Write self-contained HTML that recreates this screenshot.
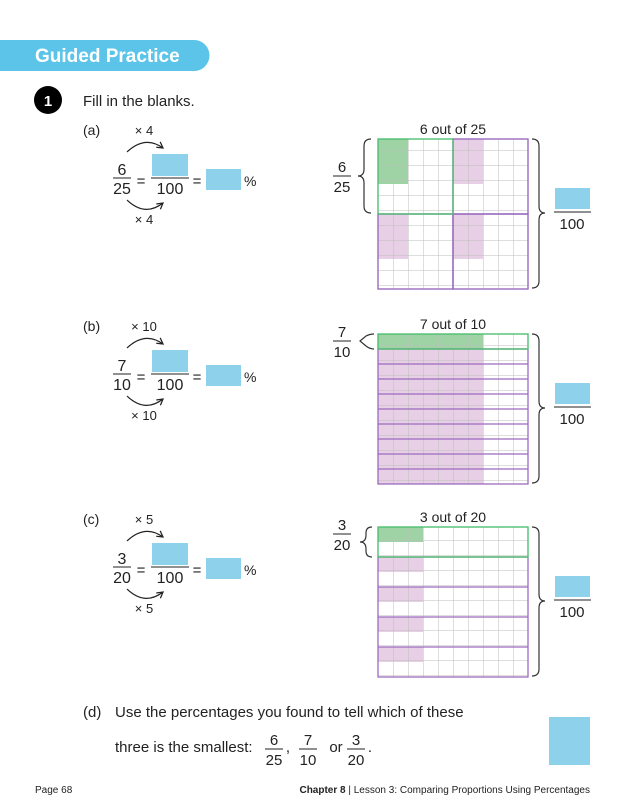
<!DOCTYPE html>
<html><head><meta charset="utf-8"><style>
html,body{margin:0;padding:0;background:#fff;}
svg{display:block;font-family:"Liberation Sans",sans-serif;}
</style></head><body>
<svg width="630" height="803" viewBox="0 0 630 803" xmlns="http://www.w3.org/2000/svg">
<defs>
<pattern id="g" x="378" y="0" width="15" height="15" patternUnits="userSpaceOnUse">
<path d="M0 0H15M0 0V15" stroke="#bdbdbd" stroke-width="1" fill="none"/>
</pattern>
<marker id="ah" viewBox="0 0 10 10" refX="8" refY="5" markerWidth="7" markerHeight="7" orient="auto"><path d="M1 1L8 5L1 9" fill="none" stroke="#222" stroke-width="1.5"/></marker>
<g id="eq">
<path d="M127 152Q145 135 163 148" fill="none" stroke="#222" stroke-width="1.2" marker-end="url(#ah)"/>
<line x1="113" y1="178" x2="131" y2="178" stroke="#222"/>
<text x="141" y="186" text-anchor="middle" font-size="15">=</text>
<rect x="152" y="154" width="36" height="22" fill="#8dd2ea"/>
<line x1="151" y1="178" x2="189" y2="178" stroke="#222"/>
<text x="170" y="194" text-anchor="middle" font-size="16">100</text>
<text x="197" y="186" text-anchor="middle" font-size="15">=</text>
<rect x="206" y="169" width="35" height="21" fill="#8dd2ea"/>
<text x="244" y="186" font-size="14">%</text>
<path d="M127 200Q145 217 163 203" fill="none" stroke="#222" stroke-width="1.2" marker-end="url(#ah)"/>
</g>
</defs>
<!-- header -->
<path d="M0 40H194A15.5 15.5 0 0 1 194 71H0Z" fill="#5bc4e8"/>
<text x="35" y="62" fill="#fff" font-size="19" font-weight="bold">Guided Practice</text>
<circle cx="48" cy="100" r="14" fill="#000"/>
<text x="48" y="106" fill="#fff" font-size="15" font-weight="bold" text-anchor="middle">1</text>
<text x="83" y="106" font-size="15" fill="#222">Fill in the blanks.</text>

<!-- left parts -->
<g font-size="14" fill="#222">
<use href="#eq"/>
<text x="83" y="135">(a)</text>
<text x="144" y="135" text-anchor="middle" font-size="13">× 4</text>
<text x="122" y="175" text-anchor="middle" font-size="16">6</text>
<text x="122" y="194" text-anchor="middle" font-size="16">25</text>
<text x="144" y="224" text-anchor="middle" font-size="13">× 4</text>
</g>
<g font-size="14" fill="#222" transform="translate(0,196)">
<use href="#eq"/>
<text x="83" y="135">(b)</text>
<text x="144" y="135" text-anchor="middle" font-size="13">× 10</text>
<text x="122" y="175" text-anchor="middle" font-size="16">7</text>
<text x="122" y="194" text-anchor="middle" font-size="16">10</text>
<text x="144" y="224" text-anchor="middle" font-size="13">× 10</text>
</g>
<g font-size="14" fill="#222" transform="translate(0,389)">
<use href="#eq"/>
<text x="83" y="135">(c)</text>
<text x="144" y="135" text-anchor="middle" font-size="13">× 5</text>
<text x="122" y="175" text-anchor="middle" font-size="16">3</text>
<text x="122" y="194" text-anchor="middle" font-size="16">20</text>
<text x="144" y="224" text-anchor="middle" font-size="13">× 5</text>
</g>

<!-- right brace + answer -->
<g fill="none" stroke="#333" stroke-width="1.2">
<path d="M532 139Q539 139 539 146V206Q539 213 545 213Q539 213 539 220V281Q539 288 532 288"/>
<path d="M532 334Q539 334 539 341V401Q539 408 545 408Q539 408 539 415V476Q539 483 532 483"/>
<path d="M532 527Q539 527 539 534V594Q539 601 545 601Q539 601 539 608V669Q539 676 532 676"/>
</g>
<g fill="#222" font-size="15">
<rect x="555" y="188" width="35" height="21" fill="#8dd2ea"/><line x1="554" y1="212" x2="591" y2="212" stroke="#222"/><text x="572" y="229" text-anchor="middle">100</text>
<rect x="555" y="383" width="35" height="21" fill="#8dd2ea"/><line x1="554" y1="407" x2="591" y2="407" stroke="#222"/><text x="572" y="424" text-anchor="middle">100</text>
<rect x="555" y="576" width="35" height="21" fill="#8dd2ea"/><line x1="554" y1="600" x2="591" y2="600" stroke="#222"/><text x="572" y="617" text-anchor="middle">100</text>
</g>

<!-- grid titles & left fractions -->
<g fill="#222" font-size="14" text-anchor="middle">
<text x="453" y="134">6 out of 25</text>
<text x="453" y="329">7 out of 10</text>
<text x="453" y="522">3 out of 20</text>
<text x="342" y="172" font-size="15">6</text><line x1="333" y1="176" x2="351" y2="176" stroke="#222"/><text x="342" y="192" font-size="15">25</text>
<text x="342" y="337" font-size="15">7</text><line x1="333" y1="341" x2="351" y2="341" stroke="#222"/><text x="342" y="357" font-size="15">10</text>
<text x="342" y="530" font-size="15">3</text><line x1="333" y1="534" x2="351" y2="534" stroke="#222"/><text x="342" y="550" font-size="15">20</text>
</g>
<g fill="none" stroke="#333" stroke-width="1.2">
<path d="M371 139Q364 139 364 146V169Q364 176 358 176Q364 176 364 183V206Q364 213 371 213"/>
<path d="M374 334Q370 334 366 336L360 341L366 346Q370 349 374 349"/>
<path d="M372 527Q366 527 366 533V535Q366 542 360 542Q366 542 366 549V551Q366 557 372 557"/>
</g>

<!-- grid a -->
<rect x="378" y="139" width="150" height="150" fill="#fff"/>
<rect x="378" y="139" width="30" height="45" fill="#9fd3a6"/>
<g fill="#e7cfe5"><rect x="453" y="139" width="30" height="45"/><rect x="378" y="214" width="30" height="45"/><rect x="453" y="214" width="30" height="45"/></g>
<rect x="378" y="139" width="150" height="150" fill="url(#g)"/>
<rect x="453" y="139" width="75" height="75" fill="none" stroke="#9b6bbf" stroke-width="1.4"/>
<rect x="378" y="214" width="75" height="75" fill="none" stroke="#9b6bbf" stroke-width="1.4"/>
<rect x="453" y="214" width="75" height="75" fill="none" stroke="#9b6bbf" stroke-width="1.4"/>
<rect x="378" y="139" width="75" height="75" fill="none" stroke="#4fbf72" stroke-width="1.4"/>

<!-- grid b -->
<rect x="378" y="334" width="150" height="150" fill="#fff"/>
<rect x="378" y="334" width="105" height="15" fill="#9fd3a6"/>
<rect x="378" y="349" width="105" height="135" fill="#e7cfe5"/>
<rect x="378" y="334" width="150" height="150" fill="url(#g)"/>
<g fill="none" stroke="#9b6bbf" stroke-width="1.3">
<rect x="378" y="349" width="150" height="135"/>
<path d="M378 364H528M378 379H528M378 394H528M378 409H528M378 424H528M378 439H528M378 454H528M378 469H528"/>
</g>
<rect x="378" y="334" width="150" height="15" fill="none" stroke="#4fbf72" stroke-width="1.4"/>

<!-- grid c -->
<rect x="378" y="527" width="150" height="150" fill="#fff"/>
<rect x="378" y="527" width="45" height="15" fill="#9fd3a6"/>
<g fill="#e7cfe5"><rect x="378" y="557" width="45" height="15"/><rect x="378" y="587" width="45" height="15"/><rect x="378" y="617" width="45" height="15"/><rect x="378" y="647" width="45" height="15"/></g>
<rect x="378" y="527" width="150" height="150" fill="url(#g)"/>
<g fill="none" stroke="#9b6bbf" stroke-width="1.3">
<rect x="378" y="557" width="150" height="120"/>
<path d="M378 587H528M378 617H528M378 647H528"/>
</g>
<rect x="378" y="527" width="150" height="30" fill="none" stroke="#4fbf72" stroke-width="1.4"/>

<!-- part d -->
<g fill="#222" font-size="15">
<text x="83" y="717">(d)</text>
<text x="115" y="717">Use the percentages you found to tell which of these</text>
<text x="115" y="752">three is the smallest:</text>
<g text-anchor="middle">
<text x="274" y="745">6</text><line x1="265" y1="749" x2="283" y2="749" stroke="#222"/><text x="274" y="765">25</text>
<text x="288" y="752">,</text>
<text x="308" y="745">7</text><line x1="299" y1="749" x2="317" y2="749" stroke="#222"/><text x="308" y="765">10</text>
<text x="336" y="752">or</text>
<text x="356" y="745">3</text><line x1="347" y1="749" x2="365" y2="749" stroke="#222"/><text x="356" y="765">20</text>
<text x="370" y="752">.</text>
</g>
</g>
<rect x="549" y="717" width="41" height="48" fill="#8dd2ea"/>

<!-- footer -->
<text x="35" y="793" font-size="10" fill="#222">Page 68</text>
<text x="590" y="793" font-size="10" fill="#222" text-anchor="end"><tspan font-weight="bold">Chapter 8</tspan> | Lesson 3: Comparing Proportions Using Percentages</text>
</svg>
</body></html>
